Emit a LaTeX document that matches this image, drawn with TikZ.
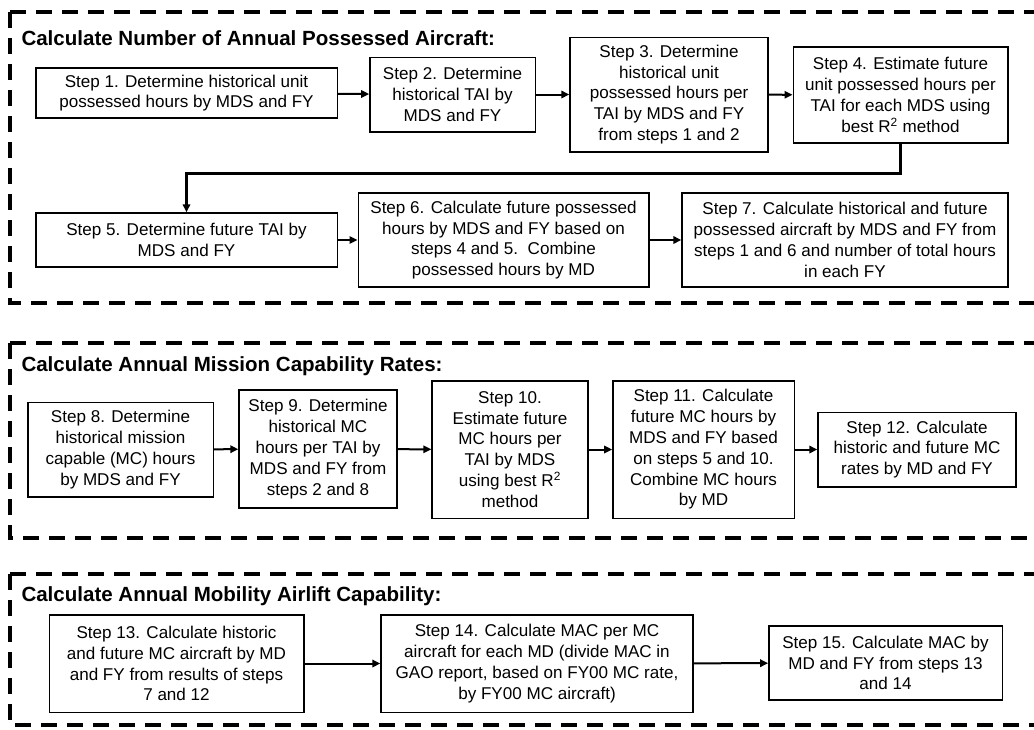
\documentclass[tikz,border=0pt]{standalone}
\usepackage{fontspec}
\setmainfont{Liberation Sans}
\usetikzlibrary{arrows.meta}

\tikzset{every picture/.style={line width=0.75pt}}
\tikzset{
  stepbox/.style={draw, line width=1pt, align=center, inner sep=2pt, font=\fontsize{12.8}{15.6}\selectfont},
  flow/.style={line width=1.5pt, -{Triangle[length=6pt,width=5.5pt]}},
  panel/.style={line width=2.5pt, dash pattern=on 12pt off 7.5pt},
  paneltitle/.style={anchor=west, inner sep=0pt, font=\bfseries\fontsize{15.4}{18}\selectfont},
}

\begin{document}
\begin{tikzpicture}[x=0.75pt,y=0.75pt,yscale=-1,xscale=1]
\clip (0,0) rectangle (1034,729);
\fill[white] (0,0) rectangle (1034,729);

%Shape: Dashed panels
\draw[panel] (10,12) -- (1060,12);
\draw[panel] (10,12) -- (10,303) -- (1060,303);
\draw[panel] (10,343) -- (1060,343);
\draw[panel] (10,343) -- (10,538) -- (1060,538);
\draw[panel] (10,574) -- (1060,574);
\draw[panel] (10,574) -- (10,725) -- (1060,725);

% Panel titles
\node[paneltitle] (t1) at (21,38) {Calculate Number of Annual Possessed Aircraft:};
\node[paneltitle] (t2) at (21,366) {Calculate Annual Mission Capability Rates:};
\node[paneltitle] (t3) at (21,596) {Calculate Annual Mobility Airlift Capability:};

% Possessed aircraft steps
\node[stepbox, minimum width=226pt, minimum height=37.5pt] (s1) at (186.5,93) {Step 1. Determine historical unit\\possessed hours by MDS and FY};
\node[stepbox, minimum width=124pt, minimum height=56pt] (s2) at (452.5,94.5) {Step 2. Determine\\historical TAI by\\MDS and FY};
\node[stepbox, minimum width=148.5pt, minimum height=86pt] (s3) at (669,94.5) {Step 3. Determine\\historical unit\\possessed hours per\\TAI by MDS and FY\\from steps 1 and 2};
\node[stepbox, minimum width=161pt, minimum height=72pt] (s4) at (900.5,95) {Step 4. Estimate future\\unit possessed hours per\\TAI for each MDS using\\best R\textsuperscript{2} method};
\node[stepbox, minimum width=226pt, minimum height=40.5pt] (s5) at (186.5,240) {Step 5. Determine future TAI by\\MDS and FY};
\node[stepbox, minimum width=218pt, minimum height=70.5pt] (s6) at (503.5,240) {Step 6. Calculate future possessed\\hours by MDS and FY based on\\steps 4 and 5.\ \ Combine\\possessed hours by MD};
\node[stepbox, minimum width=244.5pt, minimum height=70.5pt] (s7) at (845,240) {Step 7. Calculate historical and future\\possessed aircraft by MDS and FY from\\steps 1 and 6 and number of total hours\\in each FY};

% Mission capability steps
\node[stepbox, minimum width=139pt, minimum height=71pt] (s8) at (120.5,449.5) {Step 8. Determine\\historical mission\\capable (MC) hours\\by MDS and FY};
\node[stepbox, minimum width=118.5pt, minimum height=88.5pt] (s9) at (318,449) {Step 9. Determine\\historical MC\\hours per TAI by\\MDS and FY from\\steps 2 and 8};
\node[stepbox, minimum width=117pt, minimum height=103pt] (s10) at (510,449.5) {Step 10.\\Estimate future\\MC hours per\\TAI by MDS\\using best R\textsuperscript{2}\\method};
\node[stepbox, minimum width=136pt, minimum height=103pt] (s11) at (703.5,449.5) {Step 11. Calculate\\future MC hours by\\MDS and FY based\\on steps 5 and 10.\\Combine MC hours\\by MD};
\node[stepbox, minimum width=148.5pt, minimum height=56pt] (s12) at (917,449.5) {Step 12. Calculate\\historic and future MC\\rates by MD and FY};

% Airlift capability steps
\node[stepbox, minimum width=191pt, minimum height=73pt] (s13) at (176.5,663.5) {Step 13. Calculate historic\\and future MC aircraft by MD\\and FY from results of steps\\7 and 12};
\node[stepbox, minimum width=234pt, minimum height=73pt] (s14) at (537,663.5) {Step 14. Calculate MAC per MC\\aircraft for each MD (divide MAC in\\GAO report, based on FY00 MC rate,\\by FY00 MC aircraft)};
\node[stepbox, minimum width=175pt, minimum height=55.5pt] (s15) at (885.5,663) {Step 15. Calculate MAC by\\MD and FY from steps 13\\and 14};

%Straight Lines
\draw[flow] (s1) -- (s2);
\draw[flow] (s2) -- (s3);
\draw[flow] (s3) -- (s4);
\draw[flow, line width=2pt] (s4.south) -- ++(0,30) -| (s5.north);
\draw[flow] (s5) -- (s6);
\draw[flow] (s6) -- (s7);
\draw[flow] (s8) -- (s9);
\draw[flow] (s9) -- (s10);
\draw[flow] (s10) -- (s11);
\draw[flow] (s11) -- (s12);
\draw[flow] (s13) -- (s14);
\draw[flow] (s14) -- (s15);

\end{tikzpicture}
\end{document}
